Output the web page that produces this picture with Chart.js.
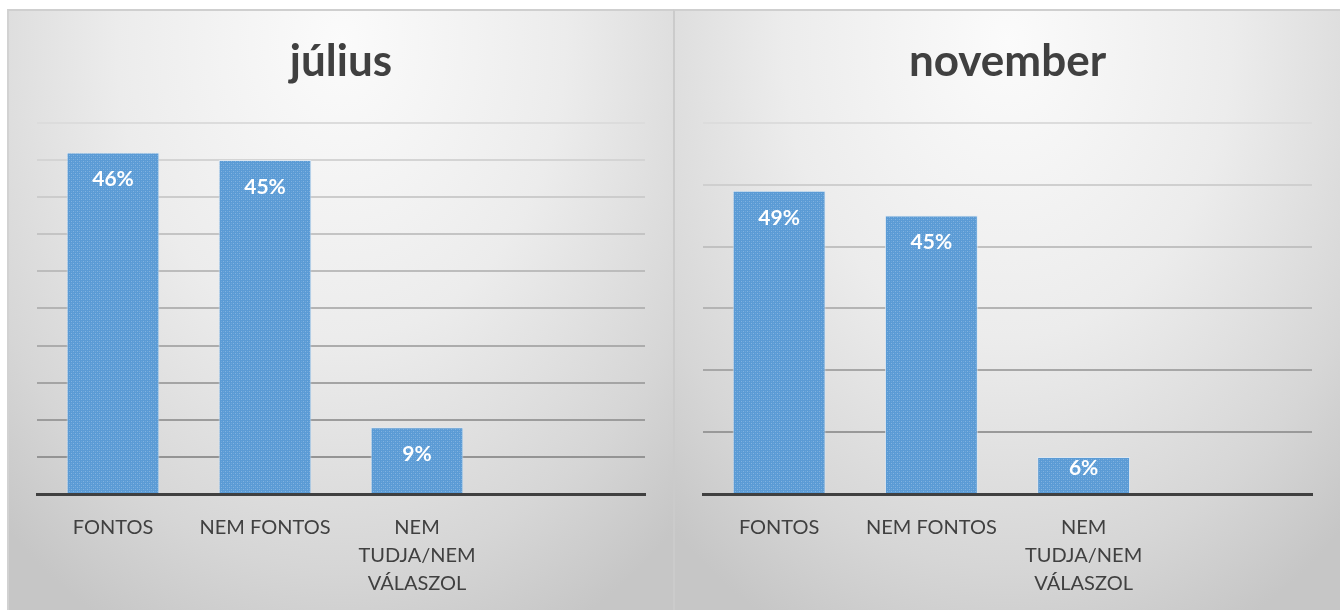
<!DOCTYPE html>
<html>
<head>
<meta charset="utf-8">
<script src="https://cdn.jsdelivr.net/npm/chart.js"></script>
<style>
  html, body { margin: 0; padding: 0; background: #ffffff; }
  body { width: 1340px; height: 610px; position: relative; overflow: hidden; }
  .panel {
    position: absolute; top: 9px; height: 601px; overflow: hidden;
    background: radial-gradient(ellipse 75% 110% at 50% 5%, #fbfbfb 0%, #ececec 45%, #d6d6d6 80%, #c6c6c6 100%);
    border-top: 2px solid #cfcfcf;
    box-sizing: border-box;
  }
  #p1 { left: 7px; width: 666px; border-left: 2px solid #d2d2d2; }
  #p2 { left: 673px; width: 667px; border-left: 2px solid #cbcbcb; }
  canvas { display: block; }
</style>
</head>
<body>
<div class="panel" id="p1"><canvas id="juliusChart"></canvas></div>
<div class="panel" id="p2"><canvas id="novemberChart"></canvas></div>
<script>
  // data
  const categories = [["FONTOS"], ["NEM FONTOS"], ["NEM", "TUDJA/NEM", "VÁLASZOL"], ""];
  const juliusValues = [46, 45, 9, null];
  const novemberValues = [49, 45, 6, null];
  const juliusTicks = { max: 50, step: 5 };
  const novemberTicks = { max: 60, step: 10 };

  const textColor = "#404040";
  const fontName = "Lato, 'Open Sans', sans-serif";

  // small dotted pattern like the Excel texture fill
  function barPattern() {
    let c = document.createElement("canvas");
    c.width = 4; c.height = 4;
    let g = c.getContext("2d");
    g.fillStyle = "#5b9bd5";
    g.fillRect(0, 0, 4, 4);
    g.fillStyle = "#82b3e0";
    g.fillRect(0, 0, 1, 1);
    g.fillRect(2, 2, 1, 1);
    g.fillStyle = "#6aa5da";
    g.fillRect(2, 0, 1, 1);
    g.fillRect(0, 2, 1, 1);
    return g.createPattern(c, "repeat");
  }

  // white percent labels inside the top of each bar
  const valueLabels = {
    id: "valueLabels",
    afterDatasetsDraw(chart) {
      let ctx = chart.ctx;
      let meta = chart.getDatasetMeta(0);
      let data = chart.data.datasets[0].data;
      ctx.save();
      ctx.fillStyle = "#ffffff";
      ctx.font = "bold 21px " + fontName;
      ctx.textAlign = "center";
      ctx.textBaseline = "middle";
      meta.data.forEach(function (bar, i) {
        if (data[i] == null) return;
        let y = Math.min(bar.y + 27, bar.base - 25);
        ctx.fillText(data[i] + "%", bar.x, y);
      });
      ctx.restore();
    }
  };

  function makeChart(id, title, values, ticks, w) {
    let canvas = document.getElementById(id);
    canvas.width = w;
    canvas.height = 615;
    let nGrid = ticks.max / ticks.step;
    return new Chart(canvas.getContext("2d"), {
      type: "bar",
      data: {
        labels: categories,
        datasets: [
          {
            data: values,
            backgroundColor: barPattern(),
            borderColor: "rgba(220, 232, 245, 0.8)",
            borderWidth: 1,
            barPercentage: 0.61,
            categoryPercentage: 1.0
          }
        ]
      },
      options: {
        responsive: false,
        animation: false,
        layout: { padding: { left: 28, right: 28, top: 0, bottom: 8 } },
        plugins: {
          legend: { display: false },
          tooltip: { enabled: false },
          title: {
            display: true,
            text: title,
            color: textColor,
            font: { family: fontName, size: 44, weight: "bold" },
            padding: { top: 24, bottom: 35 }
          }
        },
        scales: {
          x: {
            grid: { display: false, drawTicks: false },
            border: { display: true, color: "#404040", width: 3 },
            ticks: {
              color: textColor,
              font: { family: fontName, size: 20, lineHeight: 1.4 },
              padding: 20,
              maxRotation: 0,
              autoSkip: false
            }
          },
          y: {
            min: 0,
            max: ticks.max,
            ticks: { display: false, stepSize: ticks.step },
            border: { display: false },
            grid: {
              drawTicks: false,
              lineWidth: 2,
              color: function (c) {
                // lighter near the top, darker near the base
                let f = c.index / nGrid;
                let v = Math.round(140 + 80 * f);
                return "rgb(" + v + "," + v + "," + v + ")";
              }
            }
          }
        }
      },
      plugins: [valueLabels]
    });
  }

  makeChart("juliusChart", "július", juliusValues, juliusTicks, 664);
  makeChart("novemberChart", "november", novemberValues, novemberTicks, 665);
</script>
</body>
</html>
